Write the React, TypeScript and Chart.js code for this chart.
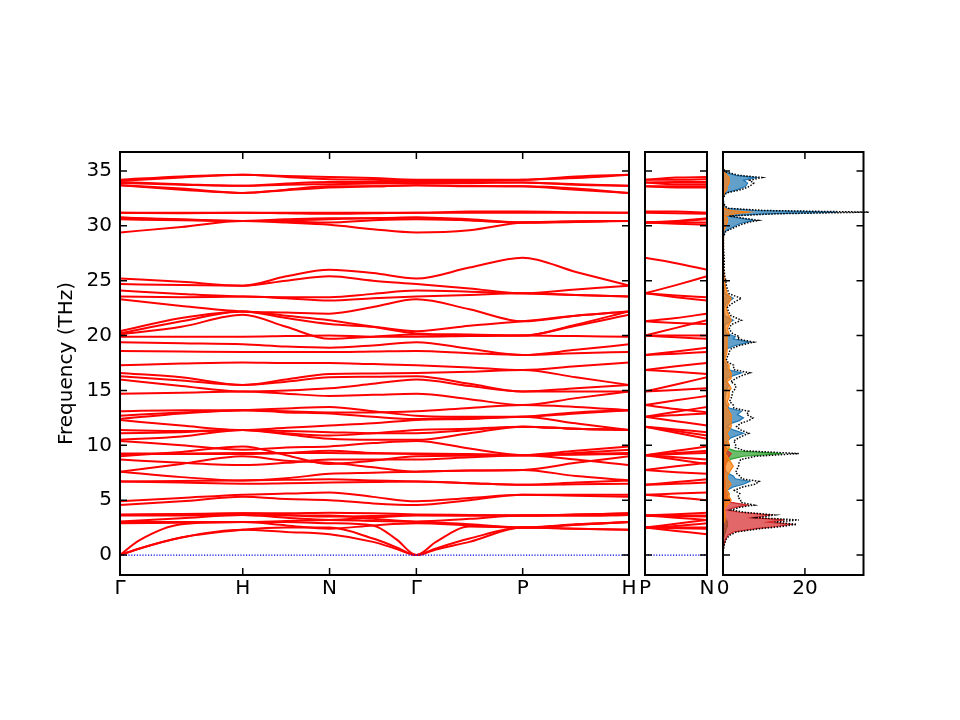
import React, { useEffect, useRef } from 'react';
import { Chart, registerables } from 'chart.js';
Chart.register(...registerables);

// ---------- axes ----------
const FREQ_MIN = -1.82;
const FREQ_MAX = 36.73;
const freqTicks = [0, 5, 10, 15, 20, 25, 30, 35];

// Γ-H-N-Γ-P-H path (distances in 2π/a)
const pathTicks = [0, 1, 1.7071, 2.4142, 3.2802, 4.1463];
const pathLabels = ['Γ', 'H', 'N', 'Γ', 'P', 'H'];
const bandK = [0, 0.5, 1, 1.3536, 1.7071, 2.0607, 2.4142, 2.8472, 3.2802, 3.7133, 4.1463];
const acousticK = [0, 0.16, 0.5, 1, 1.3536, 1.7071, 2.0607, 2.2542, 2.4142, 2.5742, 2.8472, 3.2802, 3.7133, 4.1463];

// P-N path
const pnTicks = [0, 0.5];
const pnLabels = ['P', 'N'];
const pnK = [0, 0.25, 0.5];

// ---------- bands (THz) ----------
// acoustic rows: 14 values on acousticK + P–N midpoint
const acousticBands = [
  [0, 0.6, 1.6, 2.3, 2.1, 1.9, 1.2, 0.55, 0, 0.5, 1.2, 2.5, 2.4, 2.3, 2.2],
  [0, 0.6, 1.6, 2.3, 2.5, 2.5, 1.5, 0.7, 0, 0.6, 1.5, 2.5, 2.4, 2.3, 2.5],
  [0, 1.35, 2.8, 3.0, 3.0, 2.9, 2.7, 1.4, 0, 1.2, 2.6, 2.5, 2.8, 3.0, 2.65],
];
// optical rows: 11 values on bandK + P–N midpoint
const lowBands = [
  [2.9, 2.95, 3.0, 2.7, 2.4, 2.7, 2.9, 2.7, 2.5, 2.75, 3.0, 2.45],
  [3.0, 3.0, 3.0, 3.1, 3.2, 3.1, 3.0, 2.8, 2.5, 2.75, 3.0, 2.85],
  [3.05, 3.35, 3.65, 3.6, 3.6, 3.3, 3.05, 3.3, 3.6, 3.6, 3.65, 3.6],
  [3.6, 3.6, 3.65, 3.4, 3.2, 3.4, 3.6, 3.6, 3.6, 3.6, 3.65, 3.4],
  [3.65, 3.7, 3.8, 3.65, 3.5, 3.55, 3.65, 3.6, 3.6, 3.7, 3.8, 3.55],
  [3.7, 3.75, 3.8, 3.8, 3.85, 3.8, 3.7, 3.65, 3.6, 3.7, 3.8, 3.72],
  [4.55, 4.9, 5.3, 5.1, 5.0, 4.7, 4.55, 5.0, 5.5, 5.4, 5.3, 5.25],
  [4.9, 5.2, 5.5, 5.6, 5.7, 5.3, 4.9, 5.2, 5.5, 5.5, 5.5, 5.6],
];
const midBands = [
  [6.7, 6.6, 6.5, 6.55, 6.6, 6.65, 6.7, 6.55, 6.4, 6.45, 6.5, 6.5],
  [6.7, 6.75, 6.8, 6.85, 6.9, 6.8, 6.7, 6.55, 6.4, 6.6, 6.8, 6.65],
  [7.6, 7.1, 6.8, 7.0, 7.4, 7.5, 7.6, 7.7, 7.75, 7.2, 6.8, 7.55],
  [7.6, 8.3, 9.0, 8.6, 8.4, 8.0, 7.6, 7.7, 7.75, 8.4, 9.0, 8.1],
  [9.2, 9.2, 9.2, 9.3, 9.5, 9.3, 9.2, 9.15, 9.1, 9.15, 9.2, 9.3],
  [9.25, 9.25, 9.3, 9.3, 9.3, 9.25, 9.25, 9.2, 9.1, 9.2, 9.3, 9.2],
  [8.7, 8.4, 8.2, 8.4, 8.7, 8.7, 8.7, 8.9, 9.1, 8.7, 8.2, 8.9],
  [9.0, 9.4, 9.9, 9.1, 8.3, 8.6, 9.0, 9.05, 9.1, 9.5, 9.9, 8.7],
  [10.4, 10.0, 9.6, 9.8, 9.9, 10.2, 10.4, 9.7, 9.1, 9.3, 9.6, 9.5],
  [10.5, 10.8, 11.4, 11.0, 10.6, 10.5, 10.5, 11.1, 11.7, 11.5, 11.4, 11.15],
  [11.1, 11.2, 11.4, 11.3, 11.2, 11.1, 11.1, 11.4, 11.7, 11.5, 11.4, 11.45],
  [11.4, 11.3, 11.4, 11.1, 10.9, 11.1, 11.4, 11.5, 11.7, 11.5, 11.4, 11.3],
  [12.3, 11.8, 11.4, 11.6, 11.8, 12.0, 12.3, 12.4, 12.6, 12.0, 11.4, 12.2],
  [12.4, 12.9, 13.2, 13.0, 12.9, 12.6, 12.4, 12.5, 12.6, 13.0, 13.2, 12.75],
  [12.7, 13.0, 13.2, 13.35, 13.5, 13.1, 12.7, 12.6, 12.6, 12.9, 13.2, 13.05],
  [13.1, 13.2, 13.2, 13.1, 13.0, 13.0, 13.1, 13.4, 13.67, 13.5, 13.2, 13.3],
];
const upperBands = [
  [18.6, 18.55, 18.5, 18.5, 18.5, 18.55, 18.6, 18.4, 18.23, 18.4, 18.5, 18.35],
  [17.3, 17.45, 17.55, 17.5, 17.5, 17.4, 17.3, 17.1, 16.86, 17.2, 17.55, 17.2],
  [16.6, 16.2, 15.5, 16.0, 16.5, 16.55, 16.6, 16.7, 16.86, 16.2, 15.5, 16.7],
  [16.3, 15.9, 15.5, 15.8, 16.2, 16.25, 16.3, 15.6, 14.9, 15.2, 15.5, 15.55],
  [16.0, 15.4, 14.9, 15.0, 15.2, 15.6, 16.0, 15.4, 14.9, 14.9, 14.9, 15.05],
  [14.7, 14.8, 14.9, 14.7, 14.5, 14.6, 14.7, 14.2, 13.67, 14.3, 14.9, 14.1],
  [20.4, 21.6, 22.2, 21.6, 21.05, 20.8, 20.4, 20.9, 21.3, 21.8, 22.2, 21.15],
  [20.2, 21.3, 22.2, 21.8, 21.4, 20.8, 20.2, 20.1, 20.0, 21.0, 22.2, 20.7],
  [20.1, 20.8, 21.9, 20.8, 19.7, 19.9, 20.1, 20.0, 20.0, 20.9, 21.9, 19.85],
  [19.9, 19.9, 19.9, 19.95, 20.0, 19.9, 19.9, 19.95, 20.0, 19.95, 19.9, 20.0],
  [19.4, 19.3, 19.2, 19.0, 18.9, 19.1, 19.4, 18.8, 18.23, 18.7, 19.2, 18.55],
];
const highBands = [
  [25.2, 24.9, 24.55, 25.4, 26.0, 25.7, 25.2, 26.2, 27.1, 25.8, 24.55, 26.6],
  [24.7, 24.6, 24.55, 25.0, 25.4, 25.0, 24.7, 24.3, 23.85, 24.2, 24.55, 24.6],
  [24.1, 23.8, 23.55, 23.5, 23.5, 23.8, 24.1, 24.0, 23.85, 23.7, 23.55, 23.65],
  [23.55, 23.5, 23.55, 23.4, 23.2, 23.4, 23.55, 23.7, 23.85, 23.7, 23.55, 23.5],
  [23.3, 22.7, 22.2, 22.1, 22.0, 22.6, 23.3, 22.4, 21.3, 21.8, 22.2, 21.6],
  [31.2, 31.2, 31.2, 31.2, 31.2, 31.2, 31.2, 31.3, 31.3, 31.25, 31.2, 31.3],
  [31.2, 31.15, 31.2, 31.15, 31.1, 31.15, 31.2, 31.2, 31.2, 31.2, 31.2, 31.15],
  [30.75, 30.6, 30.45, 30.6, 30.7, 30.7, 30.75, 30.6, 30.3, 30.4, 30.45, 30.45],
  [30.6, 30.5, 30.45, 30.4, 30.3, 30.5, 30.6, 30.5, 30.3, 30.4, 30.45, 30.3],
  [29.4, 29.9, 30.45, 30.3, 30.1, 29.7, 29.4, 29.6, 30.3, 30.4, 30.45, 30.2],
  [30.75, 30.55, 30.45, 30.5, 30.6, 30.7, 30.75, 30.5, 30.3, 30.35, 30.45, 30.4],
  [34.2, 34.5, 34.65, 34.55, 34.45, 34.35, 34.2, 34.2, 34.2, 34.5, 34.65, 34.4],
  [34.1, 34.4, 34.65, 34.45, 34.25, 34.2, 34.1, 34.1, 34.2, 34.35, 34.65, 34.2],
  [34.0, 33.8, 33.65, 33.85, 34.0, 34.0, 34.0, 34.0, 33.95, 33.8, 33.65, 34.0],
  [33.9, 33.75, 33.65, 33.75, 33.8, 33.85, 33.9, 33.9, 33.95, 33.75, 33.65, 33.8],
  [33.7, 33.3, 33.0, 33.25, 33.5, 33.6, 33.7, 33.65, 33.6, 33.3, 33.0, 33.5],
  [33.7, 33.4, 33.0, 33.3, 33.6, 33.6, 33.7, 33.6, 33.6, 33.4, 33.0, 33.6],
];

// ---------- DOS ----------
const dosFreq = [
  -0.5, 0, 0.5, 1.0, 1.4, 1.8, 2.1, 2.4, 2.6, 2.8,
  3.0, 3.2, 3.4, 3.65, 3.9, 4.1, 4.35, 4.55, 4.8, 5.0,
  5.3, 5.6, 5.9, 6.2, 6.45, 6.7, 6.95, 7.2, 7.5, 7.8,
  8.1, 8.4, 8.7, 9.0, 9.25, 9.5, 9.8, 10.1, 10.4, 10.7,
  11.1, 11.4, 11.7, 12.0, 12.25, 12.5, 12.8, 13.1, 13.4, 13.7,
  14.0, 14.4, 14.9, 15.2, 15.5, 15.8, 16.1, 16.35, 16.6, 16.9,
  17.3, 17.6, 17.9, 18.2, 18.5, 18.8, 19.1, 19.4, 19.7, 19.9,
  20.2, 20.6, 21.0, 21.4, 21.8, 22.2, 22.6, 23.0, 23.4, 23.8,
  24.2, 24.6, 25.0, 25.5, 26.0, 27.0, 28.0, 29.0, 29.5, 29.8,
  30.1, 30.3, 30.5, 30.7, 30.9, 31.1, 31.25, 31.4, 31.6, 32.0,
  32.5, 33.0, 33.3, 33.6, 33.9, 34.15, 34.4, 34.6, 34.9, 35.2,
  36.0,
];
const dosRed = [
  0, 0, 0.1, 0.3, 0.6, 1.2, 2.5, 8, 13, 16.5,
  11, 15, 7, 11.5, 4, 1, 3, 6, 2, 1.5,
  1, 0.8, 0.5, 0.5, 0.5, 0.5, 0.3, 0.3, 0.3, 0.5,
  0.5, 0.8, 1, 1.5, 2, 1, 0.5, 0.3, 0.2, 0.2,
  0.1, 0.1, 0.1, 0.1, 0.1, 0.1, 0.1, 0.1, 0.05, 0.05,
  0, 0, 0, 0, 0, 0, 0, 0, 0, 0,
  0, 0, 0, 0, 0, 0, 0, 0, 0, 0,
  0, 0, 0, 0, 0, 0, 0, 0, 0, 0,
  0, 0, 0, 0, 0, 0, 0, 0, 0, 0,
  0, 0, 0, 0, 0, 0, 0, 0, 0, 0,
  0, 0, 0, 0, 0, 0, 0, 0, 0, 0,
  0,
];
const dosGreen = [
  0, 0, 0, 0.05, 0.1, 0.3, 0.6, 0.8, 1, 1.2,
  1, 0.8, 0.5, 0.4, 0.3, 0.3, 0.3, 0.3, 0.3, 0.3,
  0.3, 0.3, 0.3, 0.3, 0.3, 0.3, 0.3, 0.3, 0.3, 0.4,
  0.5, 0.8, 1.5, 5, 14.5, 3, 0.5, 0.3, 0.2, 0.2,
  0.2, 0.2, 0.2, 0.2, 0.2, 0.2, 0.2, 0.2, 0.1, 0.1,
  0.1, 0.1, 0.1, 0.1, 0.1, 0.1, 0.1, 0.1, 0.1, 0.1,
  0, 0, 0, 0, 0, 0, 0, 0, 0, 0,
  0, 0, 0, 0, 0, 0, 0, 0, 0, 0,
  0, 0, 0, 0, 0, 0, 0, 0, 0, 0,
  0, 0, 0, 0, 0, 0, 0, 0, 0, 0,
  0, 0, 0, 0, 0, 0, 0, 0, 0, 0,
  0,
];
const dosBlue = [
  0, 0, 0, 0, 0, 0.05, 0.1, 0.1, 0.2, 0.2,
  0.3, 0.3, 0.3, 0.3, 0.3, 0.3, 0.3, 0.3, 0.5, 0.5,
  0.8, 1.5, 1, 2.5, 5, 6.5, 3, 2.5, 1, 0.5,
  0.3, 0.3, 0.3, 0.5, 0.5, 0.5, 0.5, 1, 1, 2,
  5, 2.5, 1, 2, 4, 5, 3.5, 4.5, 1.5, 0.8,
  0.5, 0.5, 0.8, 1, 1.5, 0.8, 1, 2.5, 4.5, 1,
  1, 0.3, 0.3, 0.5, 0.5, 1, 3, 6.5, 2.5, 3,
  0.8, 0.5, 0.5, 2.5, 0.5, 0.3, 0.3, 1, 2.5, 0.5,
  0.3, 0.3, 0.2, 0.1, 0.1, 0.1, 0, 0.05, 0.5, 2,
  3.5, 5, 7.5, 4, 1, 10, 28, 8, 0.8, 0.1,
  0, 0.5, 3.5, 5.5, 6, 5, 8, 3, 0.5, 0,
  0,
];
const dosOrange = [
  0, 0, 0, 0, 0, 0.05, 0.1, 0.1, 0.2, 0.2,
  0.3, 0.5, 0.5, 0.5, 0.5, 0.3, 0.5, 1, 1.5, 2,
  1.5, 1.5, 1, 1.5, 2, 1.5, 1, 1, 1.5, 2,
  2.5, 2, 1.5, 1, 0.5, 0.8, 1.5, 1.5, 1.2, 1.5,
  1, 1.5, 2, 2, 2, 2, 2, 1.5, 1, 1.5,
  1, 1.5, 1.5, 2, 1.5, 1, 2, 2, 2, 1.5,
  1.5, 0.8, 0.5, 0.8, 1, 1, 1, 1, 1, 1,
  1.5, 1, 1.5, 2, 1.5, 1, 0.8, 1.5, 2, 1,
  0.8, 0.5, 0.5, 0.3, 0.2, 0.2, 0.1, 0.05, 0.2, 0.5,
  0.8, 1, 1.2, 1, 0.5, 3, 6.5, 2, 0.3, 0.1,
  0, 0.3, 1, 1, 1.5, 1.5, 1.5, 1, 0.3, 0,
  0,
];
const dosTotal = [
  0, 0, 0.1, 0.35, 0.7, 1.6, 3.3, 9, 14.4, 18,
  12.6, 18.5, 8.3, 12.7, 5.1, 1.9, 4.1, 7.6, 4.3, 4.3,
  3.6, 4.1, 2.8, 4.8, 7.8, 8.8, 4.6, 4.1, 3.1, 3.4,
  3.8, 3.9, 4.3, 8, 18.5, 5.3, 3, 3.1, 2.6, 3.9,
  6.3, 4.3, 3.3, 4.3, 6.3, 7.3, 5.8, 6.3, 2.65, 2.45,
  1.6, 2.1, 2.4, 3.1, 3.1, 1.9, 3.1, 4.6, 6.6, 2.6,
  2.6, 1.1, 0.8, 1.3, 1.5, 2, 4, 7.5, 3.5, 4,
  2.3, 1.5, 2, 4.5, 2, 1.3, 1.1, 2.5, 4.5, 1.5,
  1.1, 0.8, 0.7, 0.4, 0.3, 0.3, 0.1, 0.1, 0.7, 2.5,
  4.3, 6, 8.7, 5, 1.5, 13, 35.6, 10, 1.1, 0.2,
  0, 0.8, 4.5, 6.5, 7.5, 6.5, 9.5, 4, 0.8, 0,
  0,
];
const dosTicks = [0, 20];
const DOS_MAX = 34.3;

// ---------- style ----------
const FONT = { family: 'DejaVu Sans', size: 20 };
const BAND_COLOR = '#ff0000';
const ZERO_COLOR = '#0000ee';
const PDOS = [
  { values: dosOrange, color: '255,127,14' },
  { values: dosRed, color: '214,39,40' },
  { values: dosGreen, color: '44,160,44' },
  { values: dosBlue, color: '31,119,180' },
];

function frameTicks(xTickValues: number[], yTickValues: number[]) {
  return {
    id: 'frameTicks',
    afterDraw(chart: any) {
      const { ctx, chartArea: a, scales } = chart;
      const len = 7;
      ctx.save();
      ctx.strokeStyle = '#000';
      ctx.lineWidth = 1.5;
      ctx.beginPath();
      for (const v of yTickValues) {
        const py = scales.y.getPixelForValue(v);
        ctx.moveTo(a.left, py);
        ctx.lineTo(a.left + len, py);
        ctx.moveTo(a.right, py);
        ctx.lineTo(a.right - len, py);
      }
      for (const v of xTickValues) {
        const px = scales.x.getPixelForValue(v);
        ctx.moveTo(px, a.bottom);
        ctx.lineTo(px, a.bottom - len);
        ctx.moveTo(px, a.top);
        ctx.lineTo(px, a.top + len);
      }
      ctx.stroke();
      ctx.lineWidth = 2;
      ctx.strokeRect(a.left, a.top, a.right - a.left, a.bottom - a.top);
      ctx.restore();
    },
  };
}

function bandLine(points: { x: number; y: number }[]) {
  return {
    data: points,
    borderColor: BAND_COLOR,
    borderWidth: 2,
    pointRadius: 0,
    fill: false,
    cubicInterpolationMode: 'monotone',
  };
}

function zeroLine(end: number) {
  return {
    data: [{ x: 0, y: 0 }, { x: end, y: 0 }],
    borderColor: ZERO_COLOR,
    borderWidth: 1.3,
    borderDash: [1.2, 1.6],
    pointRadius: 0,
    fill: false,
  };
}

const opticalBands = [...lowBands, ...midBands, ...upperBands, ...highBands];

function xAxis(min: number, max: number, ticks: number[], labels: string[], height: number) {
  return {
    type: 'linear',
    min,
    max,
    grid: { display: false, drawTicks: false },
    border: { display: false },
    afterBuildTicks: (s: any) => {
      s.ticks = ticks.map((v) => ({ value: v }));
    },
    afterFit: (s: any) => {
      s.height = height;
    },
    ticks: {
      autoSkip: false,
      maxRotation: 0,
      minRotation: 0,
      padding: 2,
      color: '#000',
      font: FONT,
      callback: (_v: any, i: number) => labels[i],
    },
  };
}

function hiddenFreqAxis() {
  return { type: 'linear', display: false, min: FREQ_MIN, max: FREQ_MAX };
}

const baseOpts = {
  responsive: false,
  animation: false,
  events: [],
  plugins: { legend: { display: false }, tooltip: { enabled: false } },
};

export default function App() {
  const bandRef = useRef<HTMLCanvasElement>(null);
  const pnRef = useRef<HTMLCanvasElement>(null);
  const dosRef = useRef<HTMLCanvasElement>(null);

  useEffect(() => {
    const charts: Chart[] = [];
    const pathEnd = pathTicks[pathTicks.length - 1];

    // main band structure
    const bandSets: any[] = [zeroLine(pathEnd)];
    acousticBands.forEach((row) =>
      bandSets.push(bandLine(acousticK.map((k, i) => ({ x: k, y: row[i] }))))
    );
    opticalBands.forEach((row) =>
      bandSets.push(bandLine(bandK.map((k, i) => ({ x: k, y: row[i] }))))
    );
    charts.push(
      new Chart(bandRef.current as HTMLCanvasElement, {
        type: 'line',
        data: { datasets: bandSets },
        options: {
          ...baseOpts,
          layout: { padding: { top: 152, right: 11, left: 0, bottom: 0 }, autoPadding: false },
          scales: {
            x: xAxis(0, pathEnd, pathTicks, pathLabels, 145),
            y: {
              type: 'linear',
              min: FREQ_MIN,
              max: FREQ_MAX,
              grid: { display: false, drawTicks: false },
              border: { display: false },
              afterBuildTicks: (s: any) => {
                s.ticks = freqTicks.map((v) => ({ value: v }));
              },
              afterFit: (s: any) => {
                s.width = 120;
              },
              ticks: { padding: 8, color: '#000', font: FONT, callback: (v: any) => String(v) },
              title: {
                display: true,
                text: 'Frequency (THz)',
                color: '#000',
                font: FONT,
                padding: { top: 55, bottom: 0 },
              },
            },
          },
        } as any,
        plugins: [frameTicks(pathTicks.slice(1, -1), freqTicks)],
      } as any)
    );

    // P-N segment
    const pnSets: any[] = [zeroLine(pnTicks[1])];
    acousticBands.forEach((row) =>
      pnSets.push(bandLine(pnK.map((k, i) => ({ x: k, y: [row[11], row[14], row[5]][i] }))))
    );
    opticalBands.forEach((row) =>
      pnSets.push(bandLine(pnK.map((k, i) => ({ x: k, y: [row[8], row[11], row[4]][i] }))))
    );
    charts.push(
      new Chart(pnRef.current as HTMLCanvasElement, {
        type: 'line',
        data: { datasets: pnSets },
        options: {
          ...baseOpts,
          layout: { padding: { top: 152, right: 13, left: 10, bottom: 0 }, autoPadding: false },
          scales: {
            x: xAxis(pnTicks[0], pnTicks[1], pnTicks, pnLabels, 145),
            y: hiddenFreqAxis(),
          },
        } as any,
        plugins: [frameTicks([], freqTicks)],
      } as any)
    );

    // DOS
    const dosSets: any[] = [
      {
        data: dosFreq.map((f, i) => ({ x: dosTotal[i], y: f })),
        borderColor: '#000',
        borderWidth: 1.5,
        borderDash: [1.5, 1.5],
        pointRadius: 0,
        fill: false,
        clip: false,
      },
    ];
    PDOS.forEach((p) =>
      dosSets.push({
        data: dosFreq.map((f, i) => ({ x: p.values[i], y: f })),
        borderColor: `rgb(${p.color})`,
        backgroundColor: `rgba(${p.color},0.7)`,
        borderWidth: 1.2,
        pointRadius: 0,
        fill: 'origin',
      })
    );
    charts.push(
      new Chart(dosRef.current as HTMLCanvasElement, {
        type: 'line',
        data: { datasets: dosSets },
        options: {
          ...baseOpts,
          indexAxis: 'y',
          layout: { padding: { top: 152, right: 36.5, left: 23, bottom: 0 }, autoPadding: false },
          scales: {
            x: xAxis(0, DOS_MAX, dosTicks, dosTicks.map(String), 145),
            y: hiddenFreqAxis(),
          },
        } as any,
        plugins: [frameTicks(dosTicks, freqTicks)],
      } as any)
    );

    return () => charts.forEach((c) => c.destroy());
  }, []);

  return (
    <div
      style={{
        position: 'absolute',
        left: 0,
        top: 0,
        width: 960,
        height: 720,
        background: '#fff',
        overflow: 'hidden',
      }}
    >
      <canvas ref={bandRef} width={640} height={720} style={{ position: 'absolute', left: 0, top: 0 }} />
      <canvas ref={pnRef} width={85} height={720} style={{ position: 'absolute', left: 635, top: 0 }} />
      <canvas ref={dosRef} width={200} height={720} style={{ position: 'absolute', left: 700, top: 0 }} />
    </div>
  );
}
